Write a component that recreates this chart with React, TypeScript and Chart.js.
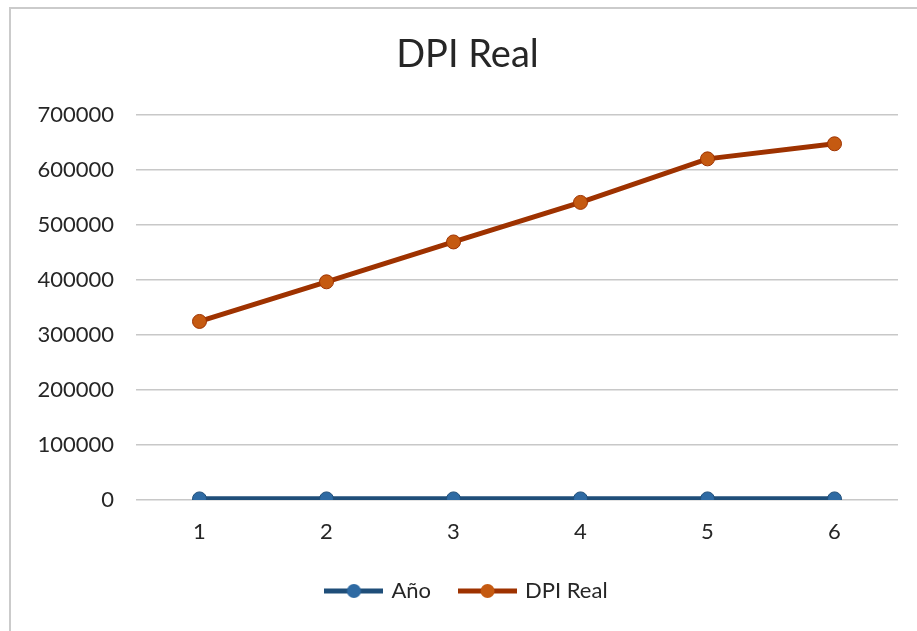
import React, { useEffect, useRef } from "react";
import { Chart, registerables } from "chart.js";

Chart.register(...registerables);

const categories = ["1", "2", "3", "4", "5", "6"];
const anoValues = [2008, 2009, 2010, 2011, 2012, 2013];
const dpiRealValues = [324300, 396300, 468700, 540500, 619600, 647000];
const yTicks = [0, 100000, 200000, 300000, 400000, 500000, 600000, 700000];

const FONT = "Lato, 'Open Sans', sans-serif";

function makeLegendMarker(line: string, fill: string): HTMLCanvasElement {
  const c = document.createElement("canvas");
  c.width = 59;
  c.height = 18;
  const ctx = c.getContext("2d")!;
  ctx.strokeStyle = line;
  ctx.lineWidth = 5;
  ctx.beginPath();
  ctx.moveTo(0, 9);
  ctx.lineTo(59, 9);
  ctx.stroke();
  ctx.fillStyle = fill;
  ctx.beginPath();
  ctx.arc(29.5, 9, 7, 0, Math.PI * 2);
  ctx.fill();
  return c;
}

export default function App() {
  const ref = useRef<HTMLCanvasElement | null>(null);

  useEffect(() => {
    if (!ref.current) return;
    const markers = [
      makeLegendMarker("#1F4E79", "#2E6AA3"),
      makeLegendMarker("#9E3200", "#C55A11"),
    ];
    const chart = new Chart(ref.current, {
      type: "line",
      data: {
        labels: categories,
        datasets: [
          {
            label: "Año",
            data: anoValues,
            borderColor: "#1F4E79",
            backgroundColor: "#2E6AA3",
            borderWidth: 5.5,
            pointRadius: 7,
            pointBackgroundColor: "#2E6AA3",
            pointBorderColor: "#1F4E79",
            pointBorderWidth: 1,
            tension: 0,
          },
          {
            label: "DPI Real",
            data: dpiRealValues,
            borderColor: "#9E3200",
            backgroundColor: "#C55A11",
            borderWidth: 5,
            pointRadius: 7,
            pointBackgroundColor: "#C55A11",
            pointBorderColor: "#9E3200",
            pointBorderWidth: 1,
            tension: 0,
          },
        ],
      },
      options: {
        responsive: false,
        animation: false,
        layout: { padding: { left: 37, right: 19, top: 0, bottom: 19 } },
        plugins: {
          tooltip: { enabled: false },
          title: {
            display: true,
            text: "DPI Real",
            color: "#262626",
            font: { family: FONT, size: 38, weight: "normal" },
            padding: { top: 32, bottom: 37 },
          },
          legend: {
            display: true,
            position: "bottom",
            labels: {
              color: "#262626",
              font: { family: FONT, size: 22 },
              usePointStyle: true,
              pointStyleWidth: 53,
              padding: 30,
              generateLabels: (ch: any) =>
                ch.data.datasets.map((ds: any, i: number) => ({
                  text: ds.label,
                  pointStyle: markers[i],
                  fillStyle: ds.backgroundColor,
                  strokeStyle: ds.borderColor,
                  lineWidth: 0,
                  fontColor: "#262626",
                  hidden: false,
                  datasetIndex: i,
                })),
            },
          },
        },
        scales: {
          x: {
            type: "category",
            offset: true,
            afterFit: (scale: any) => {
              scale.height = 50;
            },
            grid: { display: false, drawTicks: false },
            border: { display: false },
            ticks: {
              color: "#262626",
              font: { family: FONT, size: 22 },
              padding: 19,
            },
          },
          y: {
            min: 0,
            max: 700000,
            afterFit: (scale: any) => {
              scale.width = 99;
            },
            afterBuildTicks: (scale: any) => {
              scale.ticks = yTicks.map((v) => ({ value: v }));
            },
            grid: { color: "#C8C8C8", lineWidth: 1.5, drawTicks: false },
            border: { display: false },
            ticks: {
              color: "#262626",
              font: { family: FONT, size: 22 },
              padding: 22,
              callback: (v: any) => String(v),
            },
          },
        },
      },
    });
    return () => chart.destroy();
  }, []);

  return (
    <div
      style={{
        position: "absolute",
        left: 0,
        top: 0,
        width: 917,
        height: 631,
        background: "#ffffff",
        overflow: "hidden",
      }}
    >
      <div
        style={{
          position: "absolute",
          left: 9,
          top: 7,
          width: 920,
          height: 640,
          borderLeft: "2px solid #CBCBCB",
          borderTop: "2px solid #CBCBCB",
        }}
      />
      <canvas ref={ref} width={917} height={631} style={{ position: "absolute", left: 0, top: 0 }} />
    </div>
  );
}
